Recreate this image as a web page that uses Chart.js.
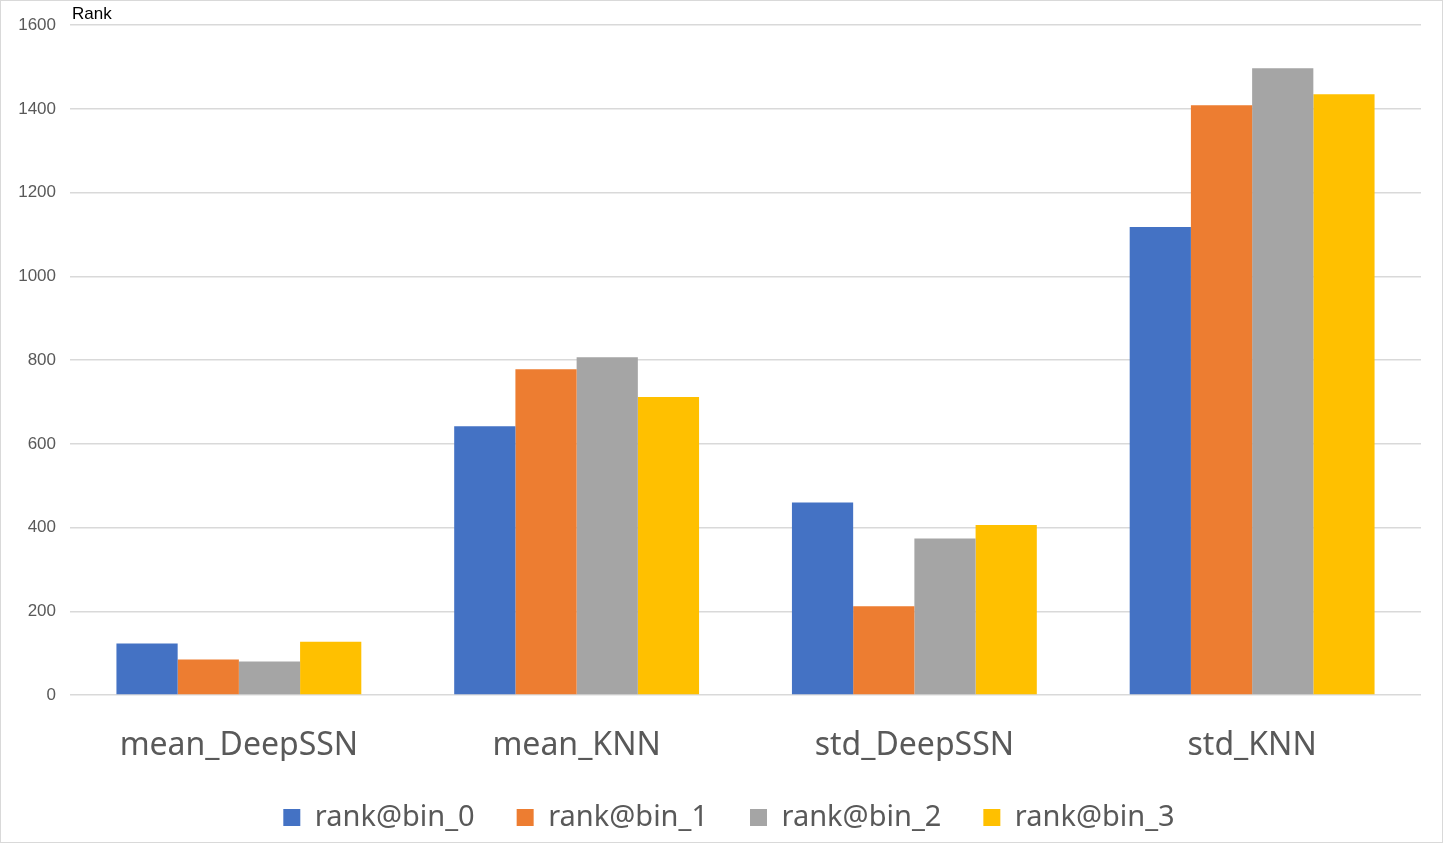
<!DOCTYPE html>
<html>
<head>
<meta charset="utf-8">
<script src="https://cdn.jsdelivr.net/npm/chart.js@4"></script>
<style>
  html, body { margin: 0; padding: 0; background: #fff; }
  #wrap { width: 1443px; height: 843px; box-sizing: border-box; border: 1px solid #d9d9d9; }
</style>
</head>
<body>
<div id="wrap"><canvas id="rank-chart"></canvas></div>
<script>
const categories = ['mean_DeepSSN', 'mean_KNN', 'std_DeepSSN', 'std_KNN'];
const seriesNames = ['rank@bin_0', 'rank@bin_1', 'rank@bin_2', 'rank@bin_3'];
const bin0 = [123, 642, 460, 1118];
const bin1 = [85, 778, 212, 1409];
const bin2 = [80, 807, 374, 1497];
const bin3 = [127, 712, 406, 1435];
const yTicks = [0, 200, 400, 600, 800, 1000, 1200, 1400, 1600];
const colors = ['#4472c4', '#ed7d31', '#a5a5a5', '#ffc000'];

// axis title drawn at top-left of plot, like the original
const rankTitle = {
    id: 'rankTitle',
    afterLayout(chart) {
        // nudge legend right so the row is centred (chart.js counts trailing padding)
        chart.legend.left += 18;
        chart.legend.right += 18;
    },
    afterDraw(chart) {
        const c = chart.ctx;
        c.save();
        c.font = '17px "Liberation Sans", Arial, sans-serif';
        c.fillStyle = '#000';
        c.textBaseline = 'bottom';
        c.fillText('Rank', chart.chartArea.left + 2, chart.chartArea.top - 2);
        c.restore();
    }
};

const ctx = document.getElementById('rank-chart').getContext('2d');
const chart = new Chart(ctx, {
    type: 'bar',
    data: {
        labels: categories,
        datasets: [bin0, bin1, bin2, bin3].map((vals, i) => ({
            label: seriesNames[i],
            data: vals,
            backgroundColor: colors[i],
            borderWidth: 0,
            barPercentage: 1.0,
            categoryPercentage: 0.725
        }))
    },
    options: {
        responsive: true,
        maintainAspectRatio: false,
        animation: false,
        layout: { padding: { top: 23, right: 21, left: 0, bottom: 0 } },
        scales: {
            x: {
                grid: { display: false },
                border: { display: false },
                afterFit(scale) { scale.height = 66; },
                ticks: {
                    color: '#595959',
                    font: { family: '"Noto Sans", sans-serif', size: 32 },
                    padding: 24,
                    autoSkip: false,
                    maxRotation: 0
                }
            },
            y: {
                min: 0,
                max: 1600,
                afterBuildTicks(scale) { scale.ticks = yTicks.map(v => ({ value: v })); },
                afterFit(scale) { scale.width = 69; },
                grid: { color: '#d9d9d9', lineWidth: 1.5, drawTicks: false },
                border: { display: false },
                ticks: {
                    color: '#595959',
                    font: { family: '"Liberation Sans", Arial, sans-serif', size: 17 },
                    padding: 14,
                    callback: v => String(v)
                }
            }
        },
        plugins: {
            legend: {
                position: 'bottom',
                labels: {
                    color: '#595959',
                    font: { family: '"Noto Sans", sans-serif', size: 29 },
                    boxWidth: 17,
                    boxHeight: 17,
                    padding: 42
                }
            },
            tooltip: { enabled: false }
        }
    },
    plugins: [rankTitle]
});
</script>
</body>
</html>
